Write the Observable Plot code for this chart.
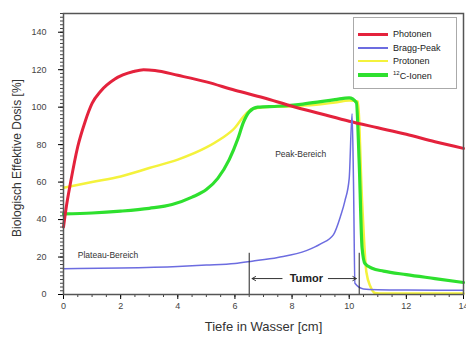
<!DOCTYPE html>
<html>
<head>
<meta charset="utf-8">
<script src="https://cdn.jsdelivr.net/npm/d3@7"></script>
<script src="https://cdn.jsdelivr.net/npm/@observablehq/plot@0.6"></script>
<style>
  html, body { margin: 0; padding: 0; background: #fff; }
  #wrap { position: relative; width: 466px; height: 345px; overflow: hidden; font-family: Arial, "Liberation Sans", sans-serif; }
  #legend { position: absolute; left: 353px; top: 17px; width: 104px; height: 72px; border: 1px solid #aaa; background: #fff; box-sizing: border-box; }
  .row { position: absolute; left: 4px; height: 12px; display: flex; align-items: center; font-size: 9px; color: #222; }
  .sw { width: 30px; height: 3px; margin-right: 5px; }
  sup { font-size: 6px; }
</style>
</head>
<body>
<div id="wrap"><div id="chart"></div><div id="legend"></div></div>
<script>
// ---- data ----
const seriesNames = ["Photonen", "Bragg-Peak", "Protonen", "12C-Ionen"];
const seriesColors = ["#e4223c", "#6c6ce0", "#f4f23c", "#2ee02e"];
const seriesWidths = [3, 1.5, 2.5, 3.2];

const photonenX = [0, 0.1, 0.25, 0.5, 0.75, 1.0, 1.3, 1.8, 2.45, 2.8, 3.2, 4, 5, 6, 7, 8, 9, 10, 11, 12, 13, 14];
const photonenY = [36, 47, 60, 79, 92, 102, 108.5, 115, 119, 120, 119.6, 117, 113.5, 109, 105, 100.5, 96.5, 92.5, 89, 85.5, 81.5, 78];

const braggX = [0, 2, 4, 5, 6, 6.6, 7.5, 8.5, 9, 9.45, 9.7, 9.85, 10.0, 10.1, 10.15, 10.2, 10.5, 11, 12, 14];
const braggY = [13.8, 14.2, 15, 15.7, 16.6, 17.8, 19.8, 23.4, 27, 32, 42, 50, 62, 96.5, 60, 6, 3, 2.6, 2.4, 2.3];

const protonenX = [0, 1, 2, 3, 4, 5, 5.5, 6, 6.3, 6.6, 7, 8, 9, 9.5, 10, 10.3, 10.45, 10.6, 10.75, 10.9, 11.2, 12, 14];
const protonenY = [57, 60, 63, 67.5, 72, 78.5, 83, 89, 95, 99, 100, 100.5, 101.5, 102.5, 103.5, 103, 50, 12, 4, 0.8, 0.5, 0.5, 0.5];

const ionenX = [0, 1, 2, 3, 3.8, 4.5, 5, 5.4, 5.8, 6.1, 6.3, 6.5, 6.8, 7.5, 8.3, 9, 9.5, 10.0, 10.25, 10.35, 10.45, 10.55, 10.8, 11.2, 12, 13, 14];
const ionenY = [43, 43.5, 44.5, 46, 48, 52, 56, 62, 72, 83, 92, 97.5, 100, 100.5, 101.5, 103, 104, 105, 102.5, 70, 25, 16.5, 14, 12.5, 10.6, 8.5, 6.4];

const xTicks = [0, 2, 4, 6, 8, 10, 12, 14];
const yTicks = [0, 20, 40, 60, 80, 100, 120, 140];

const peakNote = {x: 8.3, y: 75, text: "Peak-Bereich"};
const plateauNote = {x: 0.5, y: 20.7, text: "Plateau-Bereich"};
const tumorEdges = [6.5, 10.35];
const tumorEdgeTop = 22;
const tumorLabel = {x: 8.5, y: 8.5, text: "Tumor"};
const tumorArrows = [
  {x1: 7.65, x2: 6.6, y: 8.5},
  {x1: 9.27, x2: 10.25, y: 8.5}
];

// ---- build ----
const xs = [photonenX, braggX, protonenX, ionenX];
const ys = [photonenY, braggY, protonenY, ionenY];
const series = seriesNames.map((name, i) => xs[i].map((x, j) => ({name, x, y: ys[i][j]})));
const drawOrder = [2, 3, 0, 1];

const marks = [];
for (const i of drawOrder) {
  marks.push(Plot.line(series[i], {x: "x", y: "y", stroke: seriesColors[i], strokeWidth: seriesWidths[i], curve: "monotone-x"}));
}
marks.push(
  Plot.ruleX(tumorEdges, {x: d => d, y1: 0, y2: tumorEdgeTop, stroke: "#222", strokeWidth: 1}),
  Plot.arrow(tumorArrows, {x1: "x1", y1: "y", x2: "x2", y2: "y", stroke: "#333", strokeWidth: 1, headLength: 6, bend: 0}),
  Plot.text([tumorLabel], {x: "x", y: "y", text: "text", fontSize: 11, fontWeight: "bold", fill: "#222"}),
  Plot.text([peakNote], {x: "x", y: "y", text: "text", textAnchor: "middle", fontSize: 8.5, fill: "#333"}),
  Plot.text([plateauNote], {x: "x", y: "y", text: "text", textAnchor: "start", fontSize: 8.5, fill: "#333"}),
  Plot.axisX({ticks: d3.range(0, 14.01, 0.5), tickSize: 3, text: null, stroke: "#444", label: null}),
  Plot.axisX({ticks: xTicks, tickSize: 5, tickPadding: 3, fontSize: 9, fill: "#444", label: null}),
  Plot.axisY({ticks: d3.range(0, 151, 2), tickSize: 3, text: null, stroke: "#444", label: null}),
  Plot.axisY({ticks: yTicks, tickSize: 5, tickPadding: 12, fontSize: 9, fill: "#444", label: null}),
  Plot.frame({stroke: "#555", strokeWidth: 1.5}),
  Plot.text(["Tiefe in Wasser [cm]"], {frameAnchor: "bottom", dy: 36, text: d => d, fontSize: 13, fill: "#333"}),
  Plot.text(["Biologisch Effektive Dosis [%]"], {frameAnchor: "left", textAnchor: "middle", dx: -46, dy: 4, rotate: -90, text: d => d, fontSize: 12, fill: "#333"})
);

const chart = Plot.plot({
  width: 466,
  height: 345,
  marginLeft: 63,
  marginRight: 3,
  marginTop: 13,
  marginBottom: 51,
  style: {fontFamily: "Arial, 'Liberation Sans', sans-serif", background: "#fff", overflow: "hidden"},
  x: {domain: [0, 14], axis: null},
  y: {domain: [0, 150], axis: null},
  marks
});
document.getElementById("chart").appendChild(chart);

// legend
const legend = document.getElementById("legend");
const rowTops = [10, 24, 37, 51];
seriesNames.forEach((name, i) => {
  const row = document.createElement("div");
  row.className = "row";
  row.style.top = rowTops[i] + "px";
  const sw = document.createElement("div");
  sw.className = "sw";
  sw.style.background = seriesColors[i];
  sw.style.height = Math.max(2, seriesWidths[i]) + "px";
  const label = document.createElement("span");
  if (name.startsWith("12C")) label.innerHTML = "<sup>12</sup>C-Ionen";
  else label.textContent = name;
  row.appendChild(sw);
  row.appendChild(label);
  legend.appendChild(row);
});
</script>
</body>
</html>
